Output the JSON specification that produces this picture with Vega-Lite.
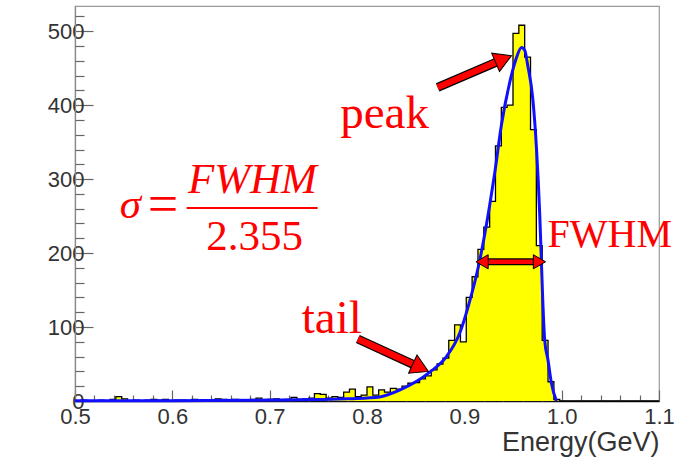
{
  "$schema": "https://vega.github.io/schema/vega-lite/v6.json",
  "width": 584,
  "height": 395,
  "autosize": {"type": "none"},
  "padding": {"left": 75, "top": 6, "right": 38, "bottom": 64},
  "background": "white",
  "config": {"view": {"stroke": "#999", "strokeWidth": 1.2}, "axis": {"grid": false}},
  "resolve": {"axis": {"x": "independent", "y": "independent"}},
  "datasets": {
    "hist": [
      {"x": 0.500, "y": 0}, {"x": 0.506, "y": 1}, {"x": 0.512, "y": 0}, {"x": 0.518, "y": 0}, {"x": 0.524, "y": 1},
      {"x": 0.530, "y": 0}, {"x": 0.536, "y": 2}, {"x": 0.542, "y": 6}, {"x": 0.548, "y": 3}, {"x": 0.554, "y": 0},
      {"x": 0.560, "y": 1}, {"x": 0.566, "y": 0}, {"x": 0.572, "y": 1}, {"x": 0.578, "y": 2}, {"x": 0.584, "y": 1},
      {"x": 0.590, "y": 2}, {"x": 0.596, "y": 0}, {"x": 0.602, "y": 1}, {"x": 0.608, "y": 1}, {"x": 0.614, "y": 0},
      {"x": 0.620, "y": 2}, {"x": 0.626, "y": 1}, {"x": 0.632, "y": 0}, {"x": 0.638, "y": 1}, {"x": 0.644, "y": 3},
      {"x": 0.650, "y": 2}, {"x": 0.656, "y": 1}, {"x": 0.662, "y": 2}, {"x": 0.668, "y": 0}, {"x": 0.674, "y": 1},
      {"x": 0.680, "y": 2}, {"x": 0.686, "y": 4}, {"x": 0.692, "y": 1}, {"x": 0.698, "y": 2}, {"x": 0.704, "y": 3},
      {"x": 0.710, "y": 1}, {"x": 0.716, "y": 2}, {"x": 0.722, "y": 5}, {"x": 0.728, "y": 2}, {"x": 0.734, "y": 3},
      {"x": 0.740, "y": 4}, {"x": 0.746, "y": 10}, {"x": 0.752, "y": 9}, {"x": 0.758, "y": 4}, {"x": 0.764, "y": 6},
      {"x": 0.770, "y": 5}, {"x": 0.776, "y": 12}, {"x": 0.782, "y": 16}, {"x": 0.788, "y": 6}, {"x": 0.794, "y": 8},
      {"x": 0.800, "y": 19}, {"x": 0.806, "y": 8}, {"x": 0.812, "y": 15}, {"x": 0.818, "y": 12}, {"x": 0.824, "y": 17},
      {"x": 0.830, "y": 16}, {"x": 0.836, "y": 20}, {"x": 0.842, "y": 24}, {"x": 0.848, "y": 25}, {"x": 0.854, "y": 30},
      {"x": 0.860, "y": 34}, {"x": 0.866, "y": 42}, {"x": 0.872, "y": 50}, {"x": 0.878, "y": 58}, {"x": 0.884, "y": 82},
      {"x": 0.890, "y": 103}, {"x": 0.896, "y": 80}, {"x": 0.902, "y": 140}, {"x": 0.908, "y": 168}, {"x": 0.914, "y": 205},
      {"x": 0.920, "y": 235}, {"x": 0.926, "y": 270}, {"x": 0.932, "y": 345}, {"x": 0.938, "y": 397}, {"x": 0.944, "y": 400},
      {"x": 0.950, "y": 497}, {"x": 0.956, "y": 508}, {"x": 0.962, "y": 465}, {"x": 0.968, "y": 367}, {"x": 0.974, "y": 210},
      {"x": 0.980, "y": 82}, {"x": 0.986, "y": 26}, {"x": 0.992, "y": 2}, {"x": 0.998, "y": 0}, {"x": 1.004, "y": 0},
      {"x": 1.010, "y": 0}, {"x": 1.100, "y": 0}
    ],
    "fit": [
      {"x": 0.5, "y": 0.3}, {"x": 0.6, "y": 0.5}, {"x": 0.7, "y": 1.2}, {"x": 0.75, "y": 2}, {"x": 0.78, "y": 3},
      {"x": 0.8, "y": 4}, {"x": 0.813, "y": 5.5}, {"x": 0.834, "y": 15}, {"x": 0.8645, "y": 39}, {"x": 0.8816, "y": 60},
      {"x": 0.8953, "y": 92}, {"x": 0.9038, "y": 127}, {"x": 0.9158, "y": 190}, {"x": 0.9261, "y": 265}, {"x": 0.9313, "y": 309},
      {"x": 0.9381, "y": 373}, {"x": 0.9467, "y": 431}, {"x": 0.9528, "y": 461}, {"x": 0.9587, "y": 478}, {"x": 0.9621, "y": 474},
      {"x": 0.9651, "y": 454}, {"x": 0.9703, "y": 409}, {"x": 0.9741, "y": 342}, {"x": 0.9775, "y": 251}, {"x": 0.9792, "y": 188},
      {"x": 0.9803, "y": 146}, {"x": 0.9826, "y": 82}, {"x": 0.986, "y": 55}, {"x": 0.9895, "y": 24}, {"x": 0.9946, "y": 0}
    ],
    "arrows": [
      {"x": 0.8726, "y": 424, "x2": 0.9403, "y2": 462.3},
      {"x": 0.7906, "y": 83.8, "x2": 0.8551, "y2": 44.9}
    ],
    "fwhm": [{"x": 0.9182, "y": 188.2, "x2": 0.9772, "y2": 188.2}],
    "bar": [{"x": 0.6147, "y": 261, "x2": 0.7493, "y2": 261}],
    "big": [
      {"x": 0.818, "y": 369, "label": "peak"},
      {"x": 0.7638, "y": 92, "label": "tail"}
    ],
    "mid": [
      {"x": 1.0494, "y": 208, "label": "FWHM"}
    ],
    "frac": [
      {"x": 0.6845, "y": 204, "label": "2.355"}
    ],
    "eq": [
      {"x": 0.5905, "y": 242, "label": "="}
    ],
    "italic": [
      {"x": 0.557, "y": 247, "label": "σ"},
      {"x": 0.6823, "y": 281, "label": "FWHM"}
    ]
  },
  "layer": [
    {
      "data": {"name": "hist"},
      "mark": {"type": "area", "interpolate": "step-after", "color": "#ffff00"},
      "encoding": {
        "x": {
          "field": "x", "type": "quantitative",
          "scale": {"domain": [0.5, 1.1], "nice": false, "zero": false},
          "axis": {
            "orient": "bottom",
            "values": [0.5, 0.6, 0.7, 0.8, 0.9, 1.0, 1.1],
            "format": ".1f",
            "tickSize": -11,
            "tickColor": "#666", "tickWidth": 1.2,
            "domainColor": "#111", "domainWidth": 1.5,
            "labelFont": "Liberation Sans", "labelFontSize": 22, "labelColor": "#333",
            "labelPadding": 16, "labelFlush": false, "labelOverlap": false,
            "title": "Energy(GeV)", "titleFont": "Liberation Sans", "titleFontSize": 27,
            "titleFontWeight": "normal", "titleColor": "#333", "titleAnchor": "end", "titlePadding": 2
          }
        },
        "y": {
          "field": "y", "type": "quantitative",
          "scale": {"domain": [0, 534], "nice": false},
          "axis": {
            "orient": "left",
            "values": [0, 100, 200, 300, 400, 500],
            "tickSize": -18,
            "tickColor": "#666", "tickWidth": 1.2,
            "domainColor": "#888", "domainWidth": 1.2,
            "labelFont": "Liberation Sans", "labelFontSize": 22, "labelColor": "#333",
            "labelPadding": 9, "labelOverlap": false, "labelFlush": false,
            "title": null
          }
        }
      }
    },
    {
      "data": {"name": "hist"},
      "mark": {"type": "line", "interpolate": "step-after", "color": "#000", "strokeWidth": 1.3},
      "encoding": {
        "x": {
          "field": "x", "type": "quantitative",
          "axis": {
            "orient": "bottom",
            "values": [0.52,0.54,0.56,0.58,0.62,0.64,0.66,0.68,0.72,0.74,0.76,0.78,0.82,0.84,0.86,0.88,0.92,0.94,0.96,0.98,1.02,1.04,1.06,1.08],
            "labels": false, "domain": false, "title": null,
            "tickSize": -6, "tickColor": "#666", "tickWidth": 1.2
          }
        },
        "y": {
          "field": "y", "type": "quantitative",
          "axis": {
            "orient": "left",
            "values": [20,40,60,80,120,140,160,180,220,240,260,280,320,340,360,380,420,440,460,480,520],
            "labels": false, "domain": false, "title": null,
            "tickSize": -9, "tickColor": "#666", "tickWidth": 1.2
          }
        }
      }
    },
    {
      "data": {"name": "fit"},
      "mark": {"type": "line", "interpolate": "monotone", "color": "#1010ff", "strokeWidth": 3},
      "encoding": {"x": {"field": "x", "type": "quantitative", "axis": null}, "y": {"field": "y", "type": "quantitative", "axis": null}}
    },
    {
      "data": {"name": "arrows"},
      "mark": {"type": "rule", "color": "#000", "strokeWidth": 9},
      "encoding": {"x": {"field": "x", "type": "quantitative", "axis": null}, "y": {"field": "y", "type": "quantitative", "axis": null}, "x2": {"field": "x2"}, "y2": {"field": "y2"}}
    },
    {
      "data": {"name": "arrows"},
      "mark": {"type": "rule", "color": "#ff0000", "strokeWidth": 6.5},
      "encoding": {"x": {"field": "x", "type": "quantitative", "axis": null}, "y": {"field": "y", "type": "quantitative", "axis": null}, "x2": {"field": "x2"}, "y2": {"field": "y2"}}
    },
    {
      "data": {"name": "arrows"},
      "transform": [{"filter": "datum.y2 > 300"}],
      "mark": {"type": "point", "shape": "triangle-right", "filled": true, "color": "#ff0000", "stroke": "#000", "strokeWidth": 1, "size": 400, "angle": 337, "opacity": 1},
      "encoding": {"x": {"field": "x2", "type": "quantitative", "axis": null}, "y": {"field": "y2", "type": "quantitative", "axis": null}}
    },
    {
      "data": {"name": "arrows"},
      "transform": [{"filter": "datum.y2 < 300"}],
      "mark": {"type": "point", "shape": "triangle-right", "filled": true, "color": "#ff0000", "stroke": "#000", "strokeWidth": 1, "size": 400, "angle": 25, "opacity": 1},
      "encoding": {"x": {"field": "x2", "type": "quantitative", "axis": null}, "y": {"field": "y2", "type": "quantitative", "axis": null}}
    },
    {
      "data": {"name": "fwhm"},
      "mark": {"type": "rule", "color": "#000", "strokeWidth": 7},
      "encoding": {"x": {"field": "x", "type": "quantitative", "axis": null}, "y": {"field": "y", "type": "quantitative", "axis": null}, "x2": {"field": "x2"}, "y2": {"field": "y2"}}
    },
    {
      "data": {"name": "fwhm"},
      "mark": {"type": "rule", "color": "#ff0000", "strokeWidth": 4.5},
      "encoding": {"x": {"field": "x", "type": "quantitative", "axis": null}, "y": {"field": "y", "type": "quantitative", "axis": null}, "x2": {"field": "x2"}, "y2": {"field": "y2"}}
    },
    {
      "data": {"name": "fwhm"},
      "mark": {"type": "point", "shape": "triangle-left", "filled": true, "color": "#ff0000", "stroke": "#000", "strokeWidth": 1, "size": 200, "opacity": 1},
      "encoding": {"x": {"field": "x", "type": "quantitative", "axis": null}, "y": {"field": "y", "type": "quantitative", "axis": null}}
    },
    {
      "data": {"name": "fwhm"},
      "mark": {"type": "point", "shape": "triangle-right", "filled": true, "color": "#ff0000", "stroke": "#000", "strokeWidth": 1, "size": 200, "opacity": 1},
      "encoding": {"x": {"field": "x2", "type": "quantitative", "axis": null}, "y": {"field": "y2", "type": "quantitative", "axis": null}}
    },
    {
      "data": {"name": "bar"},
      "mark": {"type": "rule", "color": "#ff0000", "strokeWidth": 2},
      "encoding": {"x": {"field": "x", "type": "quantitative", "axis": null}, "y": {"field": "y", "type": "quantitative", "axis": null}, "x2": {"field": "x2"}, "y2": {"field": "y2"}}
    },
    {
      "data": {"name": "big"},
      "mark": {"type": "text", "font": "Liberation Serif", "fontSize": 47, "color": "#ff0000", "align": "center", "baseline": "alphabetic"},
      "encoding": {"x": {"field": "x", "type": "quantitative", "axis": null}, "y": {"field": "y", "type": "quantitative", "axis": null}, "text": {"field": "label"}}
    },
    {
      "data": {"name": "mid"},
      "mark": {"type": "text", "font": "Liberation Serif", "fontSize": 40, "color": "#ff0000", "align": "center", "baseline": "alphabetic"},
      "encoding": {"x": {"field": "x", "type": "quantitative", "axis": null}, "y": {"field": "y", "type": "quantitative", "axis": null}, "text": {"field": "label"}}
    },
    {
      "data": {"name": "frac"},
      "mark": {"type": "text", "font": "Liberation Serif", "fontSize": 43, "color": "#ff0000", "align": "center", "baseline": "alphabetic"},
      "encoding": {"x": {"field": "x", "type": "quantitative", "axis": null}, "y": {"field": "y", "type": "quantitative", "axis": null}, "text": {"field": "label"}}
    },
    {
      "data": {"name": "eq"},
      "mark": {"type": "text", "font": "Liberation Serif", "fontSize": 54, "color": "#ff0000", "align": "center", "baseline": "alphabetic"},
      "encoding": {"x": {"field": "x", "type": "quantitative", "axis": null}, "y": {"field": "y", "type": "quantitative", "axis": null}, "text": {"field": "label"}}
    },
    {
      "data": {"name": "italic"},
      "mark": {"type": "text", "font": "Liberation Serif", "fontSize": 43, "fontStyle": "italic", "color": "#ff0000", "align": "center", "baseline": "alphabetic"},
      "encoding": {"x": {"field": "x", "type": "quantitative", "axis": null}, "y": {"field": "y", "type": "quantitative", "axis": null}, "text": {"field": "label"}}
    }
  ]
}
